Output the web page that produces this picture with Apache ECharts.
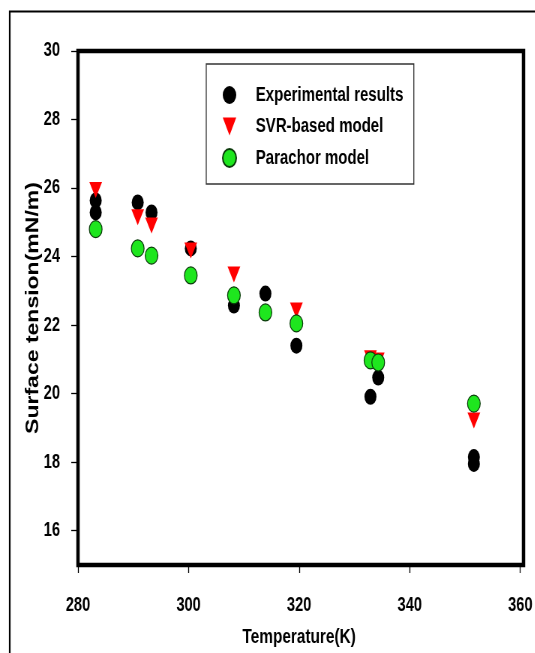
<!DOCTYPE html>
<html>
<head>
<meta charset="utf-8">
<script src="https://cdn.jsdelivr.net/npm/echarts@6/dist/echarts.min.js"></script>
<style>
  html, body { margin: 0; padding: 0; background: #fff; overflow: hidden; width: 535px; height: 653px; }
  /* the figure is laid out wide and then narrowed horizontally */
  #chart { position: absolute; left: 0; top: 0; width: 713px; height: 653px; transform: scale(0.75, 1); transform-origin: 0 0; }
</style>
</head>
<body>
<div id="chart"></div>
<script>
// Surface tension vs temperature: measurements and two model predictions
const expTemp   = [283.2, 283.2, 290.8, 293.3, 300.4, 308.2, 313.9, 319.5, 332.9, 334.3, 351.6, 351.6];
const expValues = [25.64, 25.29, 25.58, 25.29, 24.24, 22.57, 22.92, 21.40, 19.91, 20.47, 18.15, 17.95];

const svrTemp   = [283.2, 290.8, 293.3, 300.4, 308.2, 319.5, 332.9, 334.3, 351.6];
const svrValues = [25.94, 25.15, 24.91, 24.18, 23.48, 22.43, 21.03, 20.97, 19.22];

const parTemp   = [283.2, 290.8, 293.3, 300.4, 308.2, 313.9, 319.5, 332.9, 334.3, 351.6];
const parValues = [24.80, 24.24, 24.03, 23.45, 22.87, 22.37, 22.05, 20.97, 20.91, 19.71];

const xTicks = [280, 300, 320, 340, 360];
const yTicks = [16, 18, 20, 22, 24, 26, 28, 30];

const seriesNames = ['Experimental results', 'SVR-based model', 'Parachor model'];

const pair = (xs, ys) => xs.map((x, i) => [x, ys[i]]);

const DOWN_TRI = 'path://M0,0L2,0L1,2Z';
const FONT = "'Liberation Sans', Arial, Helvetica, sans-serif";

// plot area placement (chart units, before horizontal narrowing)
const GRID = { left: 104, right: 15, top: 51, bottom: 88 };
const W = 713, H = 653;

const chart = echarts.init(document.getElementById('chart'), null, { renderer: 'canvas', width: W, height: H });

chart.setOption({
  animation: false,
  backgroundColor: '#fff',
  graphic: [
    {
      type: 'rect',
      left: 10.5, top: 9,
      shape: { width: 800, height: 700 },
      style: { fill: 'none', stroke: '#000', lineWidth: 2.2 },
      silent: true,
      z: -1
    },
    {
      // heavy frame around the plotting area
      type: 'rect',
      shape: { x: GRID.left, y: GRID.top, width: W - GRID.left - GRID.right, height: H - GRID.top - GRID.bottom },
      style: { fill: 'none', stroke: '#000', lineWidth: 4.5 },
      silent: true,
      z: 10
    }
  ],
  grid: Object.assign({ show: false }, GRID),
  legend: {
    orient: 'vertical',
    left: 275, top: 64,
    padding: [21, 14, 16, 21],
    itemGap: 11.5,
    itemWidth: 18,
    itemHeight: 18,
    borderColor: '#333',
    borderWidth: 1.3,
    data: seriesNames,
    textStyle: {
      fontFamily: FONT,
      fontWeight: 'bold',
      fontSize: 20,
      color: '#000',
      padding: [0, 0, 0, 21]
    }
  },
  xAxis: {
    type: 'value',
    min: 280, max: 360, interval: 20,
    name: 'Temperature(K)',
    nameLocation: 'middle',
    nameGap: 62,
    nameMoveOverlap: false,
    nameTextStyle: { fontFamily: FONT, fontWeight: 'bold', fontSize: 20.5, color: '#000' },
    axisLine: { show: false },
    axisTick: { show: true, inside: false, length: 8, lineStyle: { color: '#000', width: 1.3 } },
    axisLabel: {
      margin: 31,
      fontFamily: FONT, fontWeight: 'bold', fontSize: 19.5, color: '#000',
      customValues: xTicks
    },
    splitLine: { show: false }
  },
  yAxis: {
    type: 'value',
    min: 15, max: 30,
    name: 'Surface tension(mN/m)',
    nameLocation: 'middle',
    nameGap: 48,
    nameMoveOverlap: false,
    nameTextStyle: { fontFamily: FONT, fontWeight: 'bold', fontSize: 23, color: '#000' },
    axisLine: { show: false },
    axisTick: { show: true, inside: false, length: 9, lineStyle: { color: '#000', width: 1.3 }, customValues: yTicks },
    axisLabel: {
      margin: 24,
      fontFamily: FONT, fontWeight: 'bold', fontSize: 19.5, color: '#000',
      customValues: yTicks
    },
    splitLine: { show: false }
  },
  series: [
    {
      name: seriesNames[0],
      type: 'scatter',
      data: pair(expTemp, expValues),
      symbol: 'circle',
      symbolSize: 16,
      itemStyle: { color: '#000', opacity: 1 },
      z: 2
    },
    {
      name: seriesNames[1],
      type: 'scatter',
      data: pair(svrTemp, svrValues),
      symbol: DOWN_TRI,
      symbolSize: [17, 16],
      itemStyle: { color: '#ff0000', opacity: 1 },
      z: 3
    },
    {
      name: seriesNames[2],
      type: 'scatter',
      data: pair(parTemp, parValues),
      symbol: 'circle',
      symbolSize: 17,
      itemStyle: { color: '#1ee61e', borderColor: '#0a3a0a', borderWidth: 1.2, opacity: 1 },
      z: 4
    }
  ]
});
</script>
</body>
</html>
